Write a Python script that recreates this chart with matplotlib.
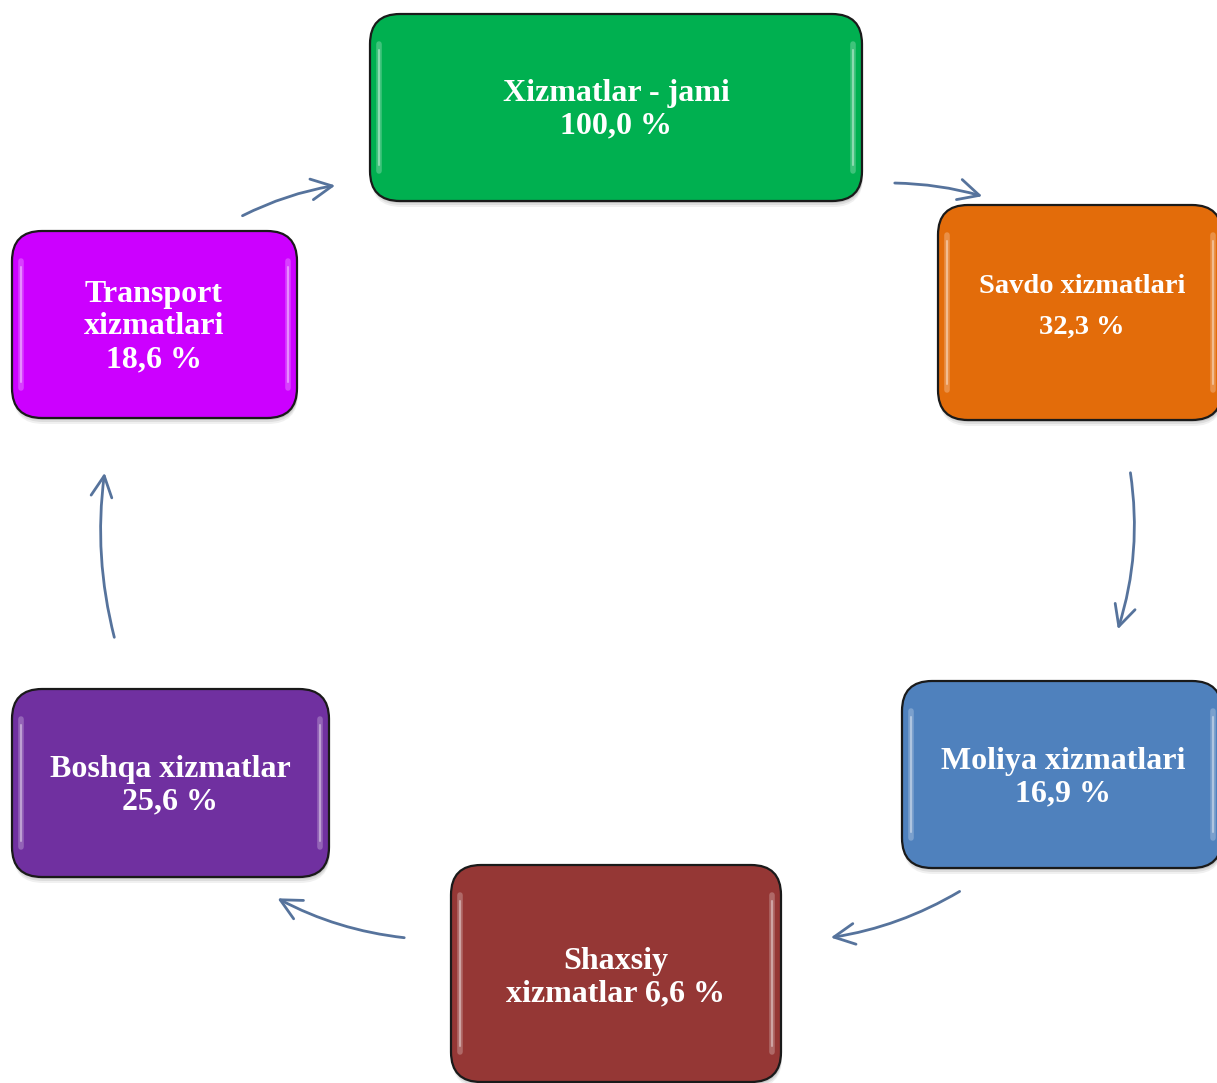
import matplotlib
matplotlib.use("Agg")
import matplotlib.pyplot as plt
from matplotlib.patches import FancyBboxPatch, FancyArrowPatch

# ---- data ----
labels = ["Xizmatlar - jami", "Savdo xizmatlari", "Moliya xizmatlari",
          "Shaxsiy\nxizmatlar", "Boshqa xizmatlar", "Transport\nxizmatlari"]
values = [100.0, 32.3, 16.9, 6.6, 25.6, 18.6]
colors = ["#00B050", "#E36C0A", "#4F81BD", "#953735", "#7030A0", "#CC00FF"]
# separators between label and value
seps = ["\n", "\n", "\n", " ", "\n", "\n"]

# ---- layout (pixel coords, y down) ----
W, H = 1217, 1083
boxes = [(370, 14, 862, 201), (938, 205, 1222, 420), (902, 681, 1222, 868),
         (451, 865, 781, 1082), (12, 689, 329, 877), (12, 231, 297, 418)]
text_pos = [(616, 110), (1082, 307), (1063, 778), (616, 978), (170, 786), (154, 327)]
line_sp = [1.16, 1.8, 1.16, 1.16, 1.16, 1.16]
font_sz = [23, 20.5, 23, 23, 23, 23]
arrows = [((892, 183), (985, 197)), ((1130, 470), (1117, 632)),
          ((962, 890), (828, 938)), ((407, 938), (275, 897)),
          ((115, 640), (105, 470)), ((240, 217), (338, 185))]
arrow_rad = [-0.07, -0.12, -0.1, -0.1, -0.1, -0.08]

fig = plt.figure(figsize=(W / 100, H / 100), dpi=100)
ax = fig.add_axes([0, 0, 1, 1])
ax.set_xlim(0, W)
ax.set_ylim(H, 0)
ax.axis("off")

def fmt(v):
    return f"{v:.1f}".replace(".", ",") + " %"

for i, (x0, y0, x1, y1) in enumerate(boxes):
    w, h = x1 - x0, y1 - y0
    # shadow
    for k, a in [(6, 0.06), (4, 0.08), (2, 0.10)]:
        sh = FancyBboxPatch((x0 + 1, y0 + k), w, h,
                            boxstyle="round,pad=0,rounding_size=30",
                            fc="#000000", ec="none", alpha=a, zorder=1)
        ax.add_patch(sh)
    p = FancyBboxPatch((x0, y0), w, h, boxstyle="round,pad=0,rounding_size=30",
                       fc=colors[i], ec="#1a1a1a", lw=1.6, zorder=2)
    ax.add_patch(p)
    # glossy side highlights
    for xx in (x0 + 9, x1 - 9):
        ax.plot([xx, xx], [y0 + 30, y1 - 30], color="white", alpha=0.25,
                lw=4, solid_capstyle="round", zorder=3)
        ax.plot([xx, xx], [y0 + 36, y1 - 36], color="white", alpha=0.4,
                lw=1.5, solid_capstyle="round", zorder=3)
    tx, ty = text_pos[i]
    ax.text(tx, ty, labels[i] + seps[i] + fmt(values[i]), ha="center", va="center",
            color="white", fontsize=font_sz[i], fontweight="bold",
            family="Liberation Serif", linespacing=line_sp[i], zorder=4)

for (p0, p1), rad in zip(arrows, arrow_rad):
    a = FancyArrowPatch(p0, p1, connectionstyle=f"arc3,rad={rad}",
                        arrowstyle="->,head_length=15,head_width=7.5",
                        color="#56739C", lw=2.0, zorder=2)
    ax.add_patch(a)

fig.savefig("out.png", dpi=100, facecolor="white")
